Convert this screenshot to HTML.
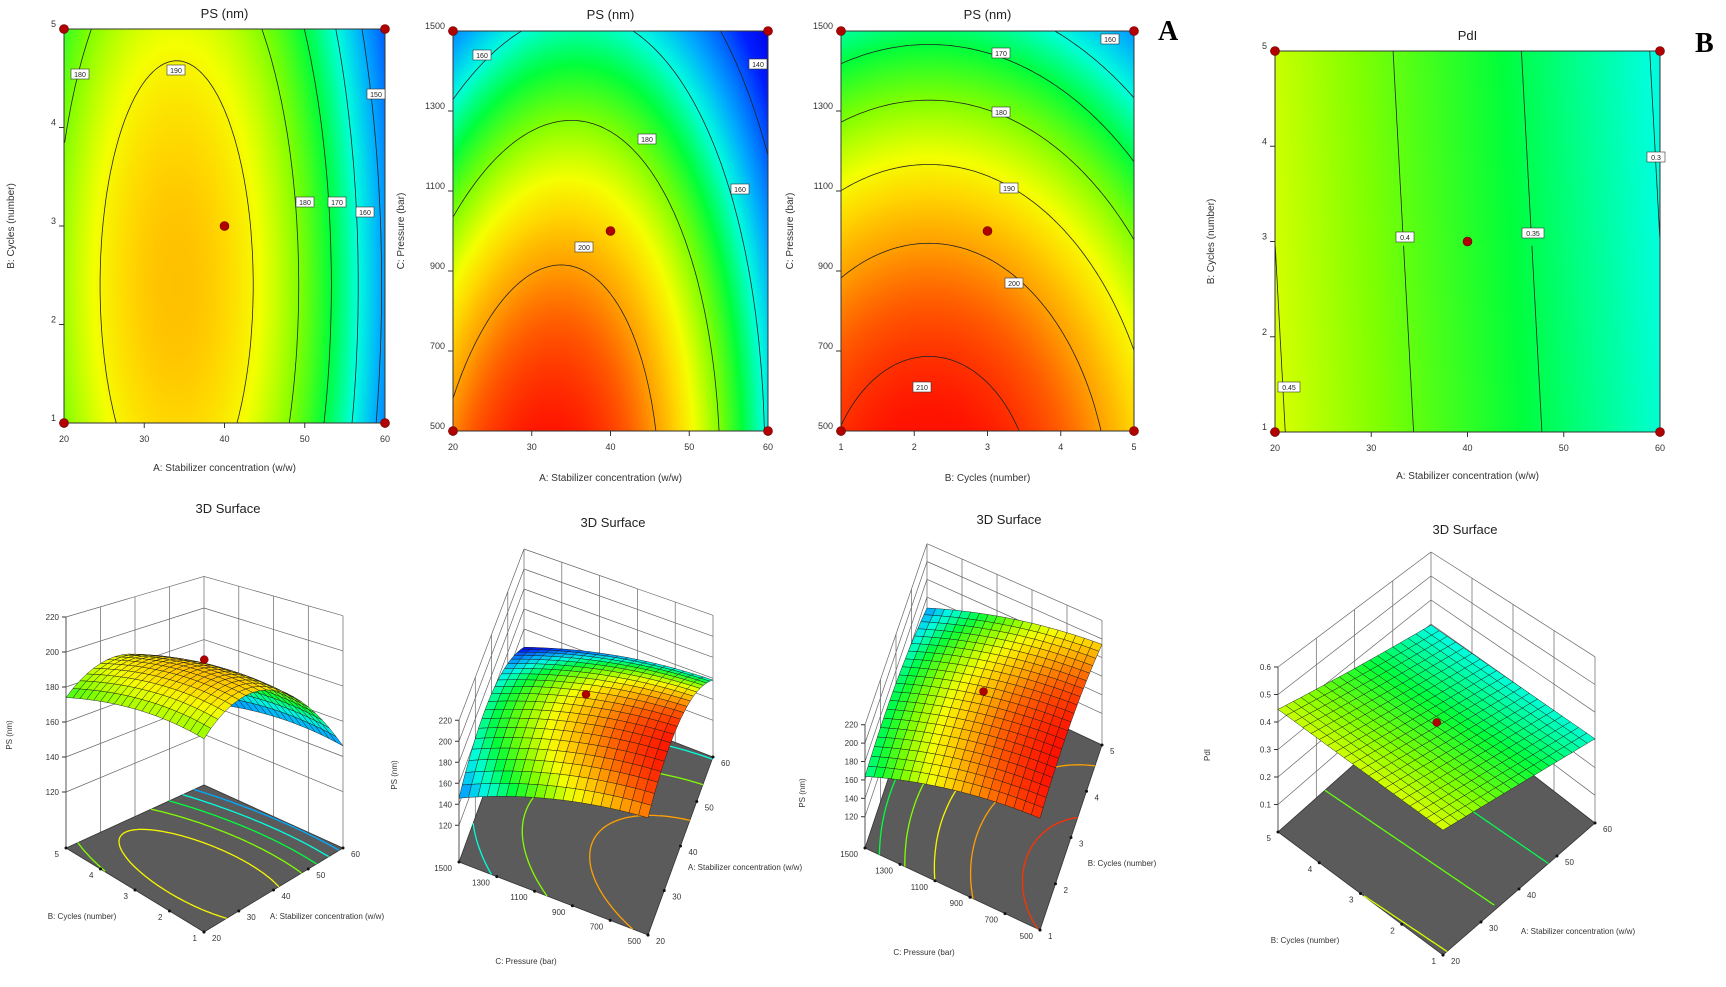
<!DOCTYPE html>
<html><head><meta charset="utf-8">
<style>
html,body{margin:0;padding:0;background:#fff;}
#wrap{position:relative;width:1726px;height:987px;overflow:hidden;background:#fff;font-family:"Liberation Sans",sans-serif;}
canvas,svg{position:absolute;left:0;top:0;}
</style></head>
<body>
<div id="wrap">
<canvas id="heat" width="1726" height="987"></canvas>
<svg id="svg" width="1726" height="987" viewBox="0 0 1726 987">
<text x="1158" y="40" font-family="Liberation Serif" font-weight="bold" font-size="28">A</text>
<text x="1695" y="52" font-family="Liberation Serif" font-weight="bold" font-size="28">B</text>
</svg>
</div>
<script>
// ---- model coefficients (coded units -1..1) ----
const PS_A = [193.5, -17, -28.5];      // intercept, A, A^2
const PS_B = [-3, -5];                 // B, B^2
const PS_C = [-23.2, -8];              // C, C^2
const PS_AC = [5];                     // A*C
const PS3_B = [197, -8, -10];          // intercept, B, B^2 for B-C slice
const PDI = [0.375, -0.075, -0.004];   // intercept, A, B
// contour levels
const LEV1 = [150, 160, 170, 180, 190];
const LEV2 = [140, 160, 180, 200];
const LEV3 = [160, 170, 180, 190, 200, 210];
const LEV4 = [0.3, 0.35, 0.4, 0.45];
// tick labels
const TICK_A = [20, 30, 40, 50, 60];
const TICK_B = [1, 2, 3, 4, 5];
const TICK_C = [500, 700, 900, 1100, 1300, 1500];
const TICK_PS = [120, 140, 160, 180, 200, 220];
const TICK_PDI = [0.1, 0.2, 0.3, 0.4, 0.5, 0.6];

function ps1(a,b){return PS_A[0]+PS_A[1]*a+PS_A[2]*a*a+PS_B[0]*b+PS_B[1]*b*b;}
function ps2(a,c){return PS_A[0]+PS_A[1]*a+PS_A[2]*a*a+PS_C[0]*c+PS_C[1]*c*c+PS_AC[0]*a*c;}
function ps3(b,c){return PS3_B[0]+PS3_B[1]*b+PS3_B[2]*b*b+PS_C[0]*c+PS_C[1]*c*c;}
function pdi(a,b){return PDI[0]+PDI[1]*a+PDI[2]*b;}

const STOPS=[[120,[0,0,230]],[132,[0,30,255]],[150,[0,170,255]],[160,[0,255,220]],[170,[0,255,60]],[180,[130,255,0]],[189,[245,255,0]],[194,[255,215,0]],[200,[255,160,0]],[206,[255,90,0]],[213,[255,20,0]],[220,[240,0,0]]];
function rgb(v){
  if(v<=STOPS[0][0])return STOPS[0][1];
  for(let i=1;i<STOPS.length;i++){if(v<=STOPS[i][0]){const t=(v-STOPS[i-1][0])/(STOPS[i][0]-STOPS[i-1][0]);const a=STOPS[i-1][1],b=STOPS[i][1];return [a[0]+(b[0]-a[0])*t,a[1]+(b[1]-a[1])*t,a[2]+(b[2]-a[2])*t];}}
  return STOPS[STOPS.length-1][1];
}
function pdiScale(p){return 160+175*(p-0.3);}
function css(c){return 'rgb('+Math.round(c[0])+','+Math.round(c[1])+','+Math.round(c[2])+')';}

const NS='http://www.w3.org/2000/svg';
const svg=document.getElementById('svg');
function el(tag,attrs,parent){const e=document.createElementNS(NS,tag);for(const k in attrs)e.setAttribute(k,attrs[k]);(parent||svg).appendChild(e);return e;}
function txt(x,y,s,size,anchor,parent,rot,fill){const t=el('text',{x:x,y:y,'font-size':size,'text-anchor':anchor||'middle',fill:fill||'#333'},parent);if(rot)t.setAttribute('transform','rotate('+rot+' '+x+' '+y+')');t.textContent=s;return t;}

function contour(f,level,N){
  const segs=[];const val=[];
  for(let j=0;j<=N;j++){val.push([]);for(let i=0;i<=N;i++)val[j].push(f(i/N,j/N));}
  for(let j=0;j<N;j++)for(let i=0;i<N;i++){
    const p=[[i,j],[i+1,j],[i+1,j+1],[i,j+1]];const v=p.map(q=>val[q[1]][q[0]]);
    const pts=[];
    for(let e=0;e<4;e++){const a=e,b=(e+1)%4;if((v[a]-level)*(v[b]-level)<0){const t=(level-v[a])/(v[b]-v[a]);pts.push([(p[a][0]+(p[b][0]-p[a][0])*t)/N,(p[a][1]+(p[b][1]-p[a][1])*t)/N]);}}
    if(pts.length>=2)segs.push([pts[0],pts[1]]);
    if(pts.length===4)segs.push([pts[2],pts[3]]);
  }
  return segs;
}

// ---------- 2D contour plots ----------
const plots=[
 {name:'ps-a-b',x0:64,x1:385,y0:29,y1:423,f:(u,v)=>ps1(u,v),col:v=>rgb(v),lev:LEV1,xt:TICK_A,yt:TICK_B,title:'PS (nm)',ty:18,xl:'A: Stabilizer concentration (w/w)',xly:471,yl:'B: Cycles (number)',ylx:14,fmt:String,
  labels:[[180,80,74],[190,176,70],[180,305,202],[170,337,202],[160,365,212],[150,376,94]]},
 {name:'ps-a-c',x0:453,x1:768,y0:31,y1:431,f:(u,v)=>ps2(u,v),col:v=>rgb(v),lev:LEV2,xt:TICK_A,yt:TICK_C,title:'PS (nm)',ty:19,xl:'A: Stabilizer concentration (w/w)',xly:481,yl:'C: Pressure  (bar)',ylx:404,fmt:String,
  labels:[[160,482,55],[140,758,64],[180,647,139],[160,740,189],[200,584,247]]},
 {name:'ps-b-c',x0:841,x1:1134,y0:31,y1:431,f:(u,v)=>ps3(u,v),col:v=>rgb(v),lev:LEV3,xt:TICK_B,yt:TICK_C,title:'PS (nm)',ty:19,xl:'B: Cycles (number)',xly:481,yl:'C: Pressure  (bar)',ylx:793,fmt:String,
  labels:[[160,1110,39],[170,1001,53],[180,1001,112],[190,1009,188],[200,1014,283],[210,922,387]]},
 {name:'pdi-a-b',x0:1275,x1:1660,y0:51,y1:432,f:(u,v)=>pdi(u,v),col:v=>rgb(pdiScale(v)),lev:LEV4,xt:TICK_A,yt:TICK_B,title:'PdI',ty:40,xl:'A: Stabilizer concentration (w/w)',xly:479,yl:'B: Cycles (number)',ylx:1214,fmt:String,
  labels:[[0.45,1289,387],[0.4,1405,237],[0.35,1533,233],[0.3,1656,157]]}
];
const ctx=document.getElementById('heat').getContext('2d');
plots.forEach(P=>{
  const w=P.x1-P.x0,h=P.y1-P.y0;
  const img=ctx.createImageData(w,h);
  for(let y=0;y<h;y++)for(let x=0;x<w;x++){
    const u=x/(w-1)*2-1,v=(h-1-y)/(h-1)*2-1;const c=P.col(P.f(u,v));const k=(y*w+x)*4;
    img.data[k]=c[0];img.data[k+1]=c[1];img.data[k+2]=c[2];img.data[k+3]=255;}
  ctx.putImageData(img,P.x0,P.y0);
  const g=el('g',{});
  
  
  let d='';
  P.lev.forEach(L=>{contour((u,v)=>P.f(u*2-1,v*2-1),L,90).forEach(s=>{d+='M'+(P.x0+s[0][0]*w).toFixed(1)+' '+(P.y1-s[0][1]*h).toFixed(1)+'L'+(P.x0+s[1][0]*w).toFixed(1)+' '+(P.y1-s[1][1]*h).toFixed(1);});});
  const cl=el('path',{d:d,stroke:'#222','stroke-width':0.8,fill:'none'},g);
  
  
  const fr=el('rect',{x:P.x0,y:P.y0,width:w,height:h,fill:'none',stroke:'#333','stroke-width':1},g);
  
  
  P.xt.forEach((t,i)=>{const x=P.x0+i/(P.xt.length-1)*w;el('line',{x1:x,y1:P.y1,x2:x,y2:P.y1+5,stroke:'#333'},g);const tt=txt(x,P.y1+19,P.fmt(t),9,'middle',g);});
  P.yt.forEach((t,i)=>{const y=P.y1-i/(P.yt.length-1)*h;el('line',{x1:P.x0-5,y1:y,x2:P.x0,y2:y,stroke:'#333'},g);const tt=txt(P.x0-8,y-2,P.fmt(t),9,'end',g);});
  const ti=txt((P.x0+P.x1)/2,P.ty,P.title,13,'middle',g,0,'#222');
  const xl=txt((P.x0+P.x1)/2,P.xly,P.xl,10,'middle',g);
  const yl=txt(P.ylx,(P.y0+P.y1)/2,P.yl,10,'middle',g,-90);
  P.labels.forEach(L=>{const s=String(L[0]);const bw=s.length*4+6;
    const r=el('rect',{x:L[1]-bw/2,y:L[2]-5,width:bw,height:10,fill:'#fff',stroke:'#333','stroke-width':0.6},g);
    
    
    txt(L[1],L[2]+3,s,7,'middle',g,0,'#222');});
  [[0,0],[1,0],[0,1],[1,1],[0.5,0.5]].forEach(p=>{const c=el('circle',{cx:P.x0+p[0]*w,cy:P.y1-p[1]*h,r:4.5,fill:'#b00000',stroke:'#600','stroke-width':0.6},g);
    
    });
});

// ---------- 3D surfaces ----------
const panels=[
 {name:'surface-ps-a-b',F:[[204,932],[343,848],[66,848],[204,785]],K:[2.1,1.76,1.75,1.58],zf:88,ztop:220,zt:TICK_PS,f:(u,v)=>ps1(u,v),col:v=>rgb(v),lev:LEV1,
  ut:TICK_A,vt:TICK_B,title:'3D Surface',tx:228,ty:513,ul:'A: Stabilizer concentration (w/w)',ulx:327,uly:919,vl:'B: Cycles (number)',vlx:82,vly:919,zl:'PS (nm)',zlx:12,zly:735},
 {name:'surface-ps-a-c',F:[[648,935],[713,757],[459,862],[524,684]],K:[1.0,1.05,1.05,1.0],zf:85,ztop:220,zt:TICK_PS,f:(u,v)=>ps2(u,v),col:v=>rgb(v),lev:LEV2,
  ut:TICK_A,vt:TICK_C,title:'3D Surface',tx:613,ty:527,ul:'A: Stabilizer concentration (w/w)',ulx:745,uly:870,vl:'C: Pressure  (bar)',vlx:526,vly:964,zl:'PS (nm)',zlx:397,zly:775},
 {name:'surface-ps-b-c',F:[[1040,930],[1102,745],[865,848],[927,663]],K:[0.9,0.93,0.92,0.89],zf:86,ztop:220,zt:TICK_PS,f:(u,v)=>ps3(u,v),col:v=>rgb(v),lev:LEV3,
  ut:TICK_B,vt:TICK_C,title:'3D Surface',tx:1009,ty:524,ul:'B: Cycles (number)',ulx:1122,uly:866,vl:'C: Pressure  (bar)',vlx:924,vly:955,zl:'PS (nm)',zlx:805,zly:793},
 {name:'surface-pdi-a-b',F:[[1443,955],[1595,823],[1278,832],[1431,696]],K:[275,277,275,240],zf:0,ztop:0.6,zt:TICK_PDI,f:(u,v)=>pdi(u,v),col:v=>rgb(pdiScale(v)),lev:LEV4,
  ut:TICK_A,vt:TICK_B,title:'3D Surface',tx:1465,ty:534,ul:'A: Stabilizer concentration (w/w)',ulx:1578,uly:934,vl:'B: Cycles (number)',vlx:1305,vly:943,zl:'PdI',zlx:1210,zly:755}
];
function bil(Q,u,v){return Q[0]*(1-u)*(1-v)+Q[1]*u*(1-v)+Q[2]*(1-u)*v+Q[3]*u*v;}
panels.forEach(P=>{
  const g=el('g',{});
  
  
  const FX=P.F.map(p=>p[0]),FY=P.F.map(p=>p[1]);
  const pr=(u,v,z)=>{const k=bil(P.K,u,v);return [bil(FX,u,v),bil(FY,u,v)-(z-P.zf)*k];};
  const pt=p=>p[0].toFixed(1)+','+p[1].toFixed(1);
  let d='';
  const line=(a,b)=>{d+='M'+pt(a)+'L'+pt(b);};
  for(let i=0;i<P.ut.length;i++){const u=i/(P.ut.length-1);line(pr(u,1,P.zf),pr(u,1,P.ztop));}
  for(let i=0;i<P.vt.length;i++){const v=i/(P.vt.length-1);line(pr(1,v,P.zf),pr(1,v,P.ztop));}
  P.zt.forEach(z=>{line(pr(0,1,z),pr(1,1,z));line(pr(1,1,z),pr(1,0,z));});
  line(pr(0,1,P.ztop),pr(1,1,P.ztop));line(pr(1,1,P.ztop),pr(1,0,P.ztop));
  const wl=el('path',{d:d,stroke:'#666','stroke-width':0.7,fill:'none'},g);
  
  
  const fl=el('polygon',{points:[pr(0,0,P.zf),pr(1,0,P.zf),pr(1,1,P.zf),pr(0,1,P.zf)].map(pt).join(' '),fill:'#5b5b5b',stroke:'#333','stroke-width':0.8},g);
  
  
  P.lev.forEach(L=>{let dd='';contour((u,v)=>P.f(u*2-1,v*2-1),L,50).forEach(s=>{dd+='M'+pt(pr(s[0][0],s[0][1],P.zf))+'L'+pt(pr(s[1][0],s[1][1],P.zf));});
    const c=el('path',{d:dd,stroke:css(P.col(L)),'stroke-width':1.3,fill:'none'},g);
    
    });
  P.zt.forEach(z=>{const p=pr(0,1,z);el('line',{x1:p[0]-4,y1:p[1],x2:p[0],y2:p[1],stroke:'#333'},g);
    const t=txt(p[0]-7,p[1]+3,String(z),8,'end',g);});
  el('line',{x1:pr(0,1,P.zf)[0],y1:pr(0,1,P.zf)[1],x2:pr(0,1,P.ztop)[0],y2:pr(0,1,P.ztop)[1],stroke:'#444','stroke-width':0.8},g);
  P.ut.forEach((t,i)=>{const p=pr(i/(P.ut.length-1),0,P.zf);el('circle',{cx:p[0],cy:p[1],r:1.5,fill:'#111'},g);
    const tt=txt(p[0]+8,p[1]+9,String(t),8,'start',g);});
  P.vt.forEach((t,i)=>{const p=pr(0,i/(P.vt.length-1),P.zf);el('circle',{cx:p[0],cy:p[1],r:1.5,fill:'#111'},g);
    const tt=txt(p[0]-7,p[1]+9,String(t),8,'end',g);});
  const N=20,quads=[];
  for(let j=0;j<N;j++)for(let i=0;i<N;i++)quads.push([i,j]);
  quads.sort((a,b)=>(b[0]+b[1])-(a[0]+a[1]));
  const sg=el('g',{},g);
  
  
  quads.forEach(q=>{const i=q[0],j=q[1];
    const c=[[i,j],[i+1,j],[i+1,j+1],[i,j+1]].map(p=>{const u=p[0]/N,v=p[1]/N;return pr(u,v,P.f(u*2-1,v*2-1));});
    const vc=P.f((i+0.5)/N*2-1,(j+0.5)/N*2-1);
    el('polygon',{points:c.map(pt).join(' '),fill:css(P.col(vc)),stroke:'#1a1a1a','stroke-width':0.45},sg);});
  const cp=pr(0.5,0.5,P.f(0,0));
  const dot=el('circle',{cx:cp[0],cy:cp[1]-4,r:4,fill:'#b00000',stroke:'#600','stroke-width':0.5},g);
  
  
  const ti=txt(P.tx,P.ty,P.title,13,'middle',g,0,'#222');
  const ul=txt(P.ulx,P.uly,P.ul,8,'middle',g);
  const vl=txt(P.vlx,P.vly,P.vl,8,'middle',g);
  const zl=txt(P.zlx,P.zly,P.zl,8,'middle',g,-90);
});
</script>
</body></html>
